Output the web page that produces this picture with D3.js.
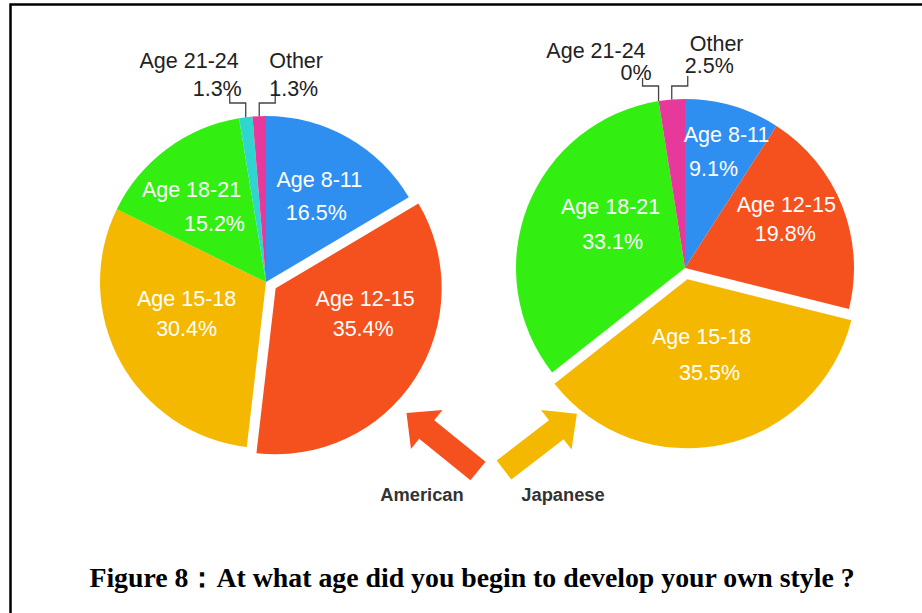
<!DOCTYPE html>
<meta charset="utf-8">
<script src="https://d3js.org/d3.v7.min.js"></script>
<style>
  body { margin: 0; background: #fff; }
  text { font-family: "Liberation Sans", Arial, sans-serif; }
</style>
<div id="chart"></div>
<script>

// data
var ageGroups = ["Age 8-11", "Age 12-15", "Age 15-18", "Age 18-21", "Age 21-24", "Other"];
var americanPct = [16.5, 35.4, 30.4, 15.2, 1.3, 1.3];
var japanesePct = [9.1, 19.8, 35.5, 33.1, 0, 2.5];
var sliceColors = ["#2f8ff0", "#f4511e", "#f5b800", "#33ee11", "#2ed6cf", "#e6399b"];
var groupNames = ["American", "Japanese"];
var titleText = "Figure 8\uFF1AAt what age did you begin to develop your own style ?";

var width = 922, height = 613;

var svg = d3.select("#chart").append("svg")
    .attr("width", width)
    .attr("height", height);

// frame (top and left edges only)
svg.append("path")
    .attr("d", "M10.5," + height + "V4.5H" + width)
    .attr("fill", "none")
    .attr("stroke", "#000")
    .attr("stroke-width", 2.5);

// layout of the two pies
var pies = [
  { values: americanPct, cx: 266, cy: 282, r: 166, explode: 1,
    // inside label nudges [dx1, dy1, dx2, dy2] from the centroid
    nudge: [[4, -15, 1, 18], [6, -44, 4, -14], [8, -31, 8, -1], [-15, -12, 8, 22]],
    // outside labels: relative to leader end
    outside: { 4: { side: -1, up: 12, anchor: "end", nx: 9, ny: -42, px: 12, py: -14 },
               5: { side: 1, up: 23, anchor: "start", nx: -6, ny: -42, px: -6, py: -14 } } },
  { values: japanesePct, cx: 685, cy: 268, r: 169, explode: 2,
    nudge: [[13, -36, 0, -2], [7, -26, 6, 3], [-7, -41, 1, -5], [20, -24, 22, 11]],
    outside: { 4: { side: -1, up: 8, anchor: "end", nx: 3, ny: -35, px: 9, py: -13 },
               5: { side: 1, up: 10, anchor: "start", nx: 2, ny: -42, px: -3, py: -20 } } }
];

var pie = d3.pie().sort(null).value(function(d) { return d; });

pies.forEach(function(p) {
  var arcs = pie(p.values);
  var arc = d3.arc().innerRadius(0).outerRadius(p.r);
  var labelArc = d3.arc().innerRadius(p.r * 0.6).outerRadius(p.r * 0.6);
  var g = svg.append("g").attr("transform", "translate(" + p.cx + "," + p.cy + ")");

  function shift(d, i) {
    if (i !== p.explode) return [0, 0];
    var a = (d.startAngle + d.endAngle) / 2;
    return [11.5 * Math.sin(a), -11.5 * Math.cos(a)];
  }

  g.selectAll("path.slice")
    .data(arcs)
    .enter().append("path")
      .attr("class", "slice")
      .attr("d", arc)
      .attr("fill", function(d, i) { return sliceColors[i]; })
      .attr("transform", function(d, i) { return "translate(" + shift(d, i) + ")"; });

  // inside labels
  arcs.forEach(function(d, i) {
    if (i > 3) return;
    var c = labelArc.centroid(d), s = shift(d, i), n = p.nudge[i];
    var x = c[0] + s[0], y = c[1] + s[1];
    g.append("text")
      .attr("x", x + n[0]).attr("y", y + n[1])
      .attr("text-anchor", "middle").attr("dominant-baseline", "central")
      .attr("font-size", 21.5).attr("fill", "#fff")
      .text(ageGroups[i]);
    g.append("text")
      .attr("x", x + n[2]).attr("y", y + n[3])
      .attr("text-anchor", "middle").attr("dominant-baseline", "central")
      .attr("font-size", 21.5).attr("fill", "#fff")
      .text(d.data + "%");
  });

  // outside labels with leader lines
  arcs.forEach(function(d, i) {
    var o = p.outside[i];
    if (!o) return;
    var a = (d.startAngle + d.endAngle) / 2;
    var x0 = p.r * Math.sin(a), y0 = -p.r * Math.cos(a);
    var yElbow = -(p.r + 13), x1 = x0 + 16 * o.side, y1 = yElbow - o.up;
    g.append("path")
      .attr("d", "M" + x0 + "," + y0 + "V" + yElbow + "H" + x1 + "V" + y1)
      .attr("fill", "none").attr("stroke", "#444").attr("stroke-width", 1.3);
    g.append("text")
      .attr("x", x1 + o.nx).attr("y", yElbow + o.ny)
      .attr("text-anchor", o.anchor).attr("dominant-baseline", "central")
      .attr("font-size", 21.5).attr("fill", "#222")
      .text(ageGroups[i]);
    g.append("text")
      .attr("x", x1 + o.px).attr("y", yElbow + o.py)
      .attr("text-anchor", o.anchor).attr("dominant-baseline", "central")
      .attr("font-size", 21.5).attr("fill", "#222")
      .text(d.data + "%");
  });
});

// arrows pointing at each pie
var arrowShape = [[0, -12], [66, -12], [66, -25], [92, 0], [66, 25], [66, 12], [0, 12]];
var arrows = [
  { tail: [478, 471], angle: -141, color: "#f4511e", label: groupNames[0], lx: 422, ly: 494 },
  { tail: [504, 470], angle: -37.6, color: "#f5b800", label: groupNames[1], lx: 563, ly: 494 }
];
arrows.forEach(function(a) {
  svg.append("polygon")
    .attr("points", arrowShape.map(function(pt) { return pt.join(","); }).join(" "))
    .attr("fill", a.color)
    .attr("transform", "translate(" + a.tail + ") rotate(" + a.angle + ")");
  svg.append("text")
    .attr("x", a.lx).attr("y", a.ly)
    .attr("text-anchor", "middle").attr("dominant-baseline", "central")
    .attr("font-size", 18.3).attr("font-weight", "bold").attr("fill", "#333")
    .text(a.label);
});

// caption
svg.append("text")
    .attr("x", 472).attr("y", 577)
    .attr("text-anchor", "middle").attr("dominant-baseline", "central")
    .style("font-family", "'Liberation Serif', 'Times New Roman', serif")
    .attr("font-size", 27.8).attr("font-weight", "bold").attr("fill", "#000")
    .text(titleText);

</script>
